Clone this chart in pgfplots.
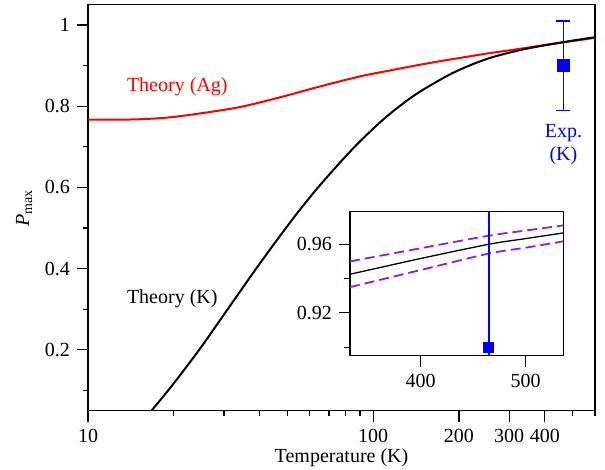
\documentclass[border=0pt]{standalone}
\usepackage{fontspec}
\setmainfont{Liberation Serif}
\usepackage{pgfplots}
\pgfplotsset{compat=1.18}
\definecolor{vio}{rgb}{0.6,0.1,0.85}
\begin{document}
\begin{tikzpicture}
\useasboundingbox (-44pt,-29.65pt) rectangle (258.5pt,205.35pt);
\begin{axis}[
 at={(0,0)}, anchor=south west,
 scale only axis, width=253.5pt, height=203pt,
 xmode=log, xmin=10, xmax=600, ymin=0.05, ymax=1.05,
 axis line style={line width=0.7pt},
 tick align=outside, tick pos=left,
 xtick={10,100,200,300,400}, xticklabels={10,100,200,300,400},
 minor xtick={20,30,40,50,60,70,80,90,500,600},
 ytick={0.2,0.4,0.6,0.8,1}, yticklabels={0.2,0.4,0.6,0.8,1},
 minor ytick={0.1,0.3,0.5,0.7,0.9},
 major tick length=5.5pt, minor tick length=2.5pt,
 every tick/.style={black, line width=0.6pt},
 tick label style={font=\fontsize{10}{12}\selectfont},
 label style={font=\fontsize{10}{12}\selectfont},
 xlabel={Temperature (K)}, ylabel={\textit{P}\textsubscript{max}},
 xlabel style={at={(axis description cs:0.5,-0.115)}, anchor=center},
 ylabel style={at={(axis description cs:-0.126,0.5)}, anchor=center},
]
\addplot[red, line width=1pt, smooth, tension=0.5] coordinates {
(10,0.767) (12,0.767) (14,0.7672) (16,0.7685) (19,0.772) (22.4,0.778) (27.5,0.787) (33.6,0.797) (41,0.811) (50.2,0.827) (61.5,0.844) (75.2,0.860) (92,0.875) (112.6,0.887) (138,0.899) (168.6,0.910) (206,0.920) (252.4,0.930) (310,0.939) (377.8,0.948) (440,0.955) (520,0.962) (600,0.9685)};
\addplot[black, line width=1pt, smooth] coordinates {
(16.7,0.05) (19.9,0.1155) (24.7,0.2027) (30.6,0.2957) (40.1,0.4131) (52.4,0.5235) (65,0.6049) (85.1,0.6962) (105.6,0.7599) (124,0.8004) (145.8,0.8356) (190.7,0.8822) (249.7,0.9161) (326.8,0.938) (400,0.950) (440,0.955) (500,0.9615) (600,0.970)};
\addplot[blue, line width=0.7pt, mark=square*, mark size=2.75pt,
 error bars/.cd, y dir=both, y explicit,
 error bar style={blue, line width=0.7pt},
 error mark options={rotate=90, mark size=3.5pt, blue, line width=0.7pt}]
 coordinates {(465,0.90) +- (0,0.11)};
\node[red, anchor=base west, inner sep=0pt, font=\fontsize{10}{12}\selectfont] at (axis cs:13.66,0.835) {Theory (Ag)};
\node[black, anchor=base west, inner sep=0pt, font=\fontsize{10}{12}\selectfont] at (axis cs:13.66,0.313) {Theory (K)};
\node[blue, anchor=base, font=\fontsize{10}{12}\selectfont] at (axis cs:465,0.722) {Exp.};
\node[blue, anchor=base, font=\fontsize{10}{12}\selectfont] at (axis cs:465,0.667) {(K)};
\end{axis}
\begin{axis}[
 at={(131pt,27.5pt)}, anchor=south west,
 scale only axis, width=106.65pt, height=72pt,
 xmin=332.5, xmax=536, ymin=0.895, ymax=0.979,
 axis background/.style={fill=white},
 axis line style={line width=0.7pt},
 tick align=outside, tick pos=left,
 xtick={400,500}, xticklabels={400,500},
 ytick={0.92,0.96}, yticklabels={0.92,0.96},
 minor ytick={0.90,0.94},
 major tick length=5.5pt, minor tick length=3pt,
 every tick/.style={black, line width=0.6pt},
 tick label style={font=\fontsize{10}{12}\selectfont},
]
\addplot[vio, line width=0.9pt, dash pattern=on 5pt off 2.5pt, smooth] coordinates {
(332.5,0.950) (400,0.9577) (465,0.965) (500,0.968) (536,0.971)};
\addplot[vio, line width=0.9pt, dash pattern=on 5pt off 2.5pt, smooth] coordinates {
(332.5,0.935) (400,0.945) (465,0.9546) (500,0.958) (536,0.9617)};
\addplot[black, line width=0.65pt, smooth] coordinates {
(332.5,0.9425) (400,0.9517) (465,0.96) (500,0.9633) (536,0.9666)};
\addplot[blue, line width=0.7pt] coordinates {(465,0.79) (465,1.01)};
\addplot[blue, only marks, mark=square*, mark size=2.5pt] coordinates {(465,0.90)};
\end{axis}
\end{tikzpicture}
\end{document}
